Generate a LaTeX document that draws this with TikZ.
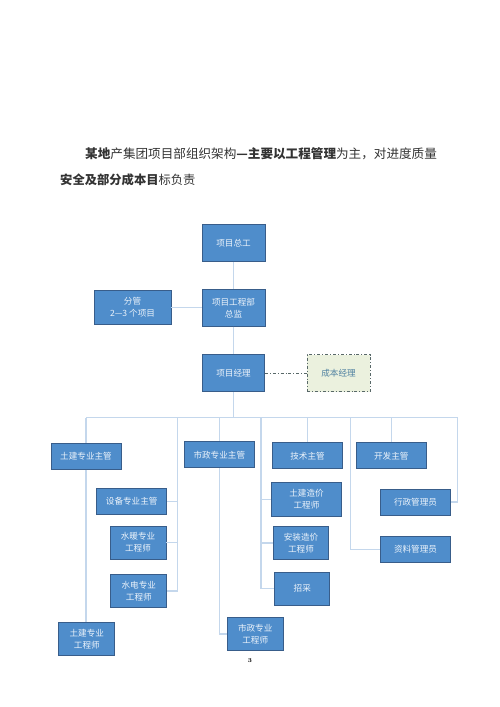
\documentclass[tikz,border=0pt]{standalone}
\usepackage{fontspec}
\newfontfamily\cjk{Noto Sans CJK SC}
\usetikzlibrary{positioning}

\definecolor{boxblue}{RGB}{79,141,203}
\definecolor{boxedge}{RGB}{56,93,138}
\definecolor{boxtext}{RGB}{236,243,251}
\definecolor{linkcol}{RGB}{196,215,236}
\definecolor{costfill}{RGB}{235,241,222}
\definecolor{costedge}{RGB}{88,104,104}
\definecolor{costtext}{RGB}{78,128,160}

\tikzset{
  post/.style={draw=boxedge, fill=boxblue, text=boxtext, line width=0.9pt,
    font=\cjk\fontsize{8.6}{12}\selectfont, align=center, inner sep=1pt},
  wide/.style={post, minimum width=70pt, minimum height=26pt},
  tall/.style={post, minimum width=56pt, minimum height=33pt},
  link/.style={draw=linkcol, line width=1.4pt},
}

\begin{document}
\begin{tikzpicture}[x=1pt,y=-1pt]

    \useasboundingbox (0,0) rectangle (500,707); % page

    % heading
    \node[anchor=west, inner sep=0pt, font=\cjk\fontsize{12.6}{14}\selectfont, text=black!80] (head1) at (85,153.5)
      {\textbf{某地}产集团项目部组织架构\textbf{—主要以工程管理}为主，对进度质量};
    \node[anchor=west, inner sep=0pt, font=\cjk\fontsize{12.3}{14}\selectfont, text=black!80] (head2) at (60,180)
      {\textbf{安全及部分成本目}标负责};

    % top of the chart
    \node[post, minimum width=63pt, minimum height=37pt] (zonggong) at (233.5,243) {项目总工};
    \node[post, minimum width=63pt, minimum height=37pt] (zongjian) at (233.5,307.7) {项目工程部\\总监};
    \node[post, minimum width=77pt, minimum height=34pt] (fenguan) at (132.5,307.7) {分管\\2—3 个项目};
    \node[post, minimum width=62pt, minimum height=37pt] (jingli) at (233.5,373.3) {项目经理};
    \node[draw=costedge, fill=costfill, text=costtext, line width=0.9pt, dash dot,
      font=\cjk\fontsize{8.6}{12}\selectfont, minimum width=63pt, minimum height=37pt] (chengben) at (338.5,373.3) {成本经理};

    % heads of the branches
    \node[wide] (tujianzg) at (86,456.3) {土建专业主管};
    \node[wide] (shizhengzg) at (219.3,454.7) {市政专业主管};
    \node[wide] (jishuzg) at (307.5,455.8) {技术主管};
    \node[wide] (kaifazg) at (391.3,455.8) {开发主管};

    % under them
    \node[wide] (shebeizg) at (131.7,501.3) {设备专业主管};
    \node[tall] (nuantong) at (138,542.5) {水暖专业\\工程师};
    \node[tall] (shuidian) at (138.8,590.8) {水电专业\\工程师};
    \node[tall] (tujiangcs) at (86.8,639.3) {土建专业\\工程师};
    \node[tall] (shizhenggcs) at (255.2,633.8) {市政专业\\工程师};
    \node[wide, minimum height=34.5pt] (tujianzj) at (306.5,499.3) {土建造价\\工程师};
    \node[tall, minimum width=55pt] (anzhuangzj) at (301,543) {安装造价\\工程师};
    \node[tall, minimum width=55pt] (zhaocai) at (302.3,588.5) {招采};
    \node[wide] (xingzheng) at (415.5,502) {行政管理员};
    \node[wide] (ziliao) at (415.5,549.7) {资料管理员};

    \node[font=\bfseries\fontsize{6}{7}\selectfont] (pageno) at (250,661) {3}; % page number

    % bus and drop points
    \coordinate (busL) at (86,417.7);
    \coordinate (busR) at (457.7,417.7);
    \coordinate (dropSb) at (177.7,417.7);
    \coordinate (dropSz) at (219.3,417.7);
    \coordinate (dropJs) at (261,417.7);
    \coordinate (dropJsz) at (307.5,417.7);
    \coordinate (dropZl) at (350.7,417.7);
    \coordinate (dropKf) at (391.3,417.7);

    % connectors
    \draw[link] (zonggong) -- (zongjian);
    \draw[link] (fenguan) -- (zongjian);
    \draw[link] (zongjian) -- (jingli);
    \draw[costedge, line width=0.8pt, dash dot] (jingli) -- (chengben);
    \draw[link] (jingli.south) -- (jingli.south |- busL);
    \draw[link] (busL) -- (busR);

    \draw[link] (busL) -- (tujianzg.north);
    \draw[link] (tujianzg.south) -- (tujianzg.south |- tujiangcs.north);

    \draw[link] (dropSb) |- (shuidian.east);
    \draw[link] (shebeizg.east) -- (shebeizg.east -| dropSb);
    \draw[link] (nuantong.east) -- (nuantong.east -| dropSb);

    \draw[link] (dropSz) -- (shizhengzg.north);
    \draw[link] (shizhengzg.south) |- (shizhenggcs.west);

    \draw[link] (dropJs) |- (zhaocai.west);
    \draw[link] (tujianzj.west) -- (tujianzj.west -| dropJs);
    \draw[link] (anzhuangzj.west) -- (anzhuangzj.west -| dropJs);

    \draw[link] (dropJsz) -- (jishuzg.north);
    \draw[link] (dropZl) |- (ziliao.west);
    \draw[link] (dropKf) -- (kaifazg.north);
    \draw[link] (busR) |- (xingzheng.east);

\end{tikzpicture}
\end{document}
